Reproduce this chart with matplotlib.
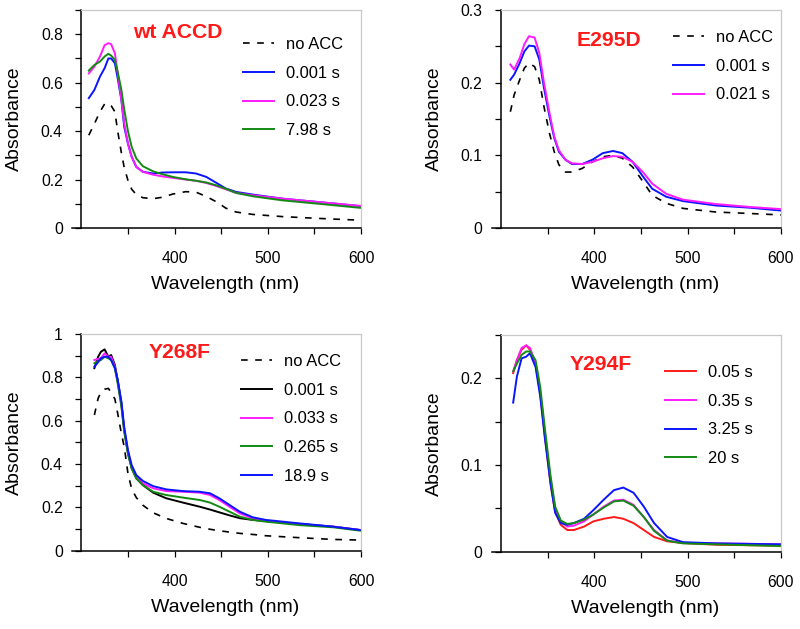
import matplotlib
matplotlib.use('Agg')
import matplotlib.pyplot as plt
from matplotlib.ticker import FixedLocator, FuncFormatter

plt.rcParams['font.family'] = ['Liberation Sans', 'DejaVu Sans']

# --- wt ACCD ---
wl_wt = [308, 314, 320, 325, 329, 332, 336, 339, 343, 346, 350, 354, 359, 366, 377,
         387, 398, 412, 423, 434, 445, 455, 466, 484, 516, 552, 600]
wt_noacc = [0.383, 0.43, 0.48, 0.512, 0.515, 0.505, 0.48, 0.40, 0.31, 0.25, 0.197, 0.160, 0.138, 0.125,
            0.121, 0.127, 0.140, 0.150, 0.148, 0.130, 0.108, 0.082, 0.066, 0.056, 0.047, 0.040, 0.032]
wt_0001 = [0.536, 0.57, 0.625, 0.66, 0.70, 0.70, 0.68, 0.618, 0.528, 0.418, 0.349, 0.294, 0.252, 0.232,
           0.225, 0.229, 0.230, 0.230, 0.225, 0.211, 0.186, 0.163, 0.149, 0.138, 0.121, 0.108, 0.090]
wt_0023 = [0.638, 0.666, 0.708, 0.755, 0.763, 0.759, 0.721, 0.639, 0.528, 0.432, 0.349, 0.294, 0.252, 0.232,
           0.220, 0.213, 0.207, 0.200, 0.195, 0.186, 0.173, 0.160, 0.145, 0.135, 0.121, 0.108, 0.091]
wt_798 = [0.650, 0.673, 0.687, 0.708, 0.719, 0.712, 0.694, 0.645, 0.570, 0.49, 0.400, 0.335, 0.287, 0.255,
          0.234, 0.222, 0.211, 0.201, 0.195, 0.188, 0.176, 0.162, 0.145, 0.131, 0.114, 0.101, 0.083]

# --- E295D ---
wl_e = [310, 314, 320, 325, 330, 336, 341, 346, 352, 357, 362, 369, 376, 387, 398, 409, 420,
        430, 441, 452, 462, 477, 495, 530, 566, 600]
e_noacc = [0.160, 0.183, 0.204, 0.220, 0.227, 0.222, 0.204, 0.167, 0.130, 0.105, 0.087, 0.077, 0.077,
           0.082, 0.091, 0.098, 0.100, 0.096, 0.084, 0.064, 0.045, 0.034, 0.027, 0.022, 0.020, 0.018]
e_0001 = [0.204, 0.211, 0.227, 0.243, 0.251, 0.250, 0.232, 0.193, 0.153, 0.124, 0.105, 0.094, 0.088,
          0.088, 0.094, 0.103, 0.106, 0.103, 0.091, 0.071, 0.054, 0.043, 0.037, 0.031, 0.028, 0.024]
e_0021 = [0.225, 0.218, 0.234, 0.253, 0.264, 0.262, 0.241, 0.200, 0.158, 0.126, 0.107, 0.094, 0.089,
          0.088, 0.091, 0.096, 0.099, 0.098, 0.091, 0.077, 0.061, 0.047, 0.039, 0.033, 0.029, 0.026]

# --- Y268F ---
wl_y268 = [314, 318, 321, 325, 329, 332, 336, 339, 343, 346, 350, 354, 359, 366, 377, 391, 409,
           427, 438, 448, 459, 470, 484, 498, 534, 570, 600]
y268_noacc = [0.626, 0.703, 0.73, 0.745, 0.749, 0.73, 0.70, 0.634, 0.54, 0.48, 0.357, 0.285, 0.245, 0.21,
              0.175, 0.149, 0.126, 0.108, 0.099, 0.092, 0.086, 0.080, 0.075, 0.069, 0.060, 0.052, 0.049]
y268_0001 = [0.842, 0.895, 0.918, 0.929, 0.895, 0.903, 0.857, 0.788, 0.680, 0.557, 0.449, 0.380, 0.334,
             0.303, 0.268, 0.242, 0.222, 0.203, 0.190, 0.177, 0.163, 0.150, 0.142, 0.137, 0.123, 0.111, 0.095]
y268_0033 = [0.88, 0.885, 0.888, 0.911, 0.895, 0.895, 0.849, 0.780, 0.672, 0.557, 0.457, 0.388, 0.342,
             0.311, 0.288, 0.275, 0.272, 0.268, 0.257, 0.234, 0.203, 0.172, 0.149, 0.138, 0.123, 0.111, 0.095]
y268_0265 = [0.865, 0.875, 0.88, 0.895, 0.888, 0.88, 0.842, 0.772, 0.665, 0.549, 0.449, 0.380, 0.334,
             0.303, 0.272, 0.257, 0.245, 0.234, 0.222, 0.203, 0.180, 0.157, 0.142, 0.134, 0.118, 0.108, 0.092]
y268_189 = [0.849, 0.87, 0.888, 0.895, 0.895, 0.88, 0.842, 0.788, 0.688, 0.572, 0.465, 0.395, 0.349,
            0.322, 0.298, 0.283, 0.275, 0.272, 0.265, 0.242, 0.211, 0.180, 0.154, 0.142, 0.126, 0.111, 0.095]

# --- Y294F ---
wl_y294 = [313, 317, 322, 327, 331, 337, 342, 347, 353, 358, 364, 371, 378, 389, 399, 410, 421,
           431, 442, 453, 464, 478, 495, 531, 600]
y294_005 = [0.206, 0.221, 0.233, 0.238, 0.233, 0.217, 0.183, 0.133, 0.079, 0.046, 0.031, 0.025, 0.025,
            0.029, 0.035, 0.038, 0.040, 0.038, 0.033, 0.025, 0.017, 0.012, 0.010, 0.008, 0.007]
y294_035 = [0.208, 0.221, 0.235, 0.238, 0.235, 0.217, 0.185, 0.137, 0.083, 0.050, 0.035, 0.029, 0.030,
            0.035, 0.043, 0.052, 0.059, 0.060, 0.054, 0.040, 0.025, 0.013, 0.010, 0.0096, 0.0085]
y294_325 = [0.172, 0.202, 0.223, 0.225, 0.229, 0.213, 0.179, 0.131, 0.079, 0.045, 0.033, 0.031, 0.033,
            0.038, 0.048, 0.060, 0.071, 0.074, 0.068, 0.052, 0.033, 0.017, 0.011, 0.0096, 0.0085]
y294_20 = [0.208, 0.217, 0.227, 0.231, 0.231, 0.221, 0.190, 0.142, 0.088, 0.052, 0.036, 0.032, 0.033,
           0.037, 0.043, 0.051, 0.058, 0.059, 0.053, 0.040, 0.024, 0.0127, 0.0096, 0.0085, 0.0065]

BLUE = '#0a14ff'
MAG = '#ff1aff'
GREEN = '#138a13'
RED = '#ff1a1a'
DASH = (0, (4, 4.5))

W, H = 800, 629
fig = plt.figure(figsize=(W / 100, H / 100), dpi=100)


def px_axes(l, t, r, b):
    return fig.add_axes([l / W, 1 - b / H, (r - l) / W, (b - t) / H])


def style(ax, ylim, ymajor, yminor):
    ax.set_xlim(290, 600)
    ax.set_ylim(*ylim)
    ax.spines['left'].set_position(('data', 300))
    for s in ('left', 'bottom'):
        ax.spines[s].set_linewidth(1.1)
    for s in ('top', 'right'):
        ax.spines[s].set_color('#c8c8c8')
        ax.spines[s].set_linewidth(0.9)
    ax.spines['top'].set_bounds(300, 600)
    ax.xaxis.set_major_locator(FixedLocator([400, 500, 600]))
    ax.xaxis.set_minor_locator(FixedLocator([350, 450, 550]))
    ax.yaxis.set_major_locator(FixedLocator(ymajor))
    ax.yaxis.set_minor_locator(FixedLocator(yminor))
    ax.yaxis.set_major_formatter(FuncFormatter(lambda v, p: '0' if v == 0 else f'{v:g}'))
    ax.tick_params(which='both', direction='out', length=4.3, width=0.9, labelsize=11.3)
    ax.tick_params(axis='x', which='major', pad=12.5)
    ax.tick_params(axis='y', which='major', pad=9.0)
    ax.set_xlabel('Wavelength (nm)', fontsize=14)
    ax.set_ylabel('Absorbance', fontsize=14)
    ax.xaxis.set_label_coords(0.53, -0.222)
    ax.yaxis.set_label_coords(-0.17, 0.5)


def legend(ax, x, y):
    ax.legend(loc='upper left', bbox_to_anchor=(x / W, 1 - y / H), bbox_transform=fig.transFigure,
              frameon=False, fontsize=11.9, handlelength=1.88, handletextpad=0.73,
              labelspacing=0.83, borderpad=0, borderaxespad=0)


# panel 1
ax1 = px_axes(72, 10, 361, 228)
ax1.plot(wl_wt, wt_noacc, color='black', ls=DASH, lw=1.2, label='no ACC')
ax1.plot(wl_wt, wt_0001, color=BLUE, lw=1.4, label='0.001 s')
ax1.plot(wl_wt, wt_0023, color=MAG, lw=1.4, label='0.023 s')
ax1.plot(wl_wt, wt_798, color=GREEN, lw=1.4, label='7.98 s')
style(ax1, (0, 0.9), [0, 0.2, 0.4, 0.6, 0.8], [0.1, 0.3, 0.5, 0.7, 0.9])
legend(ax1, 243, 37)
fig.text(133 / W, 1 - 33 / H, 'wt ACCD', color=RED, fontsize=15.2, fontweight='bold', va='center')

# panel 2
ax2 = px_axes(491.7, 10, 781, 228)
ax2.plot(wl_e, e_noacc, color='black', ls=DASH, lw=1.2, label='no ACC')
ax2.plot(wl_e, e_0001, color=BLUE, lw=1.4, label='0.001 s')
ax2.plot(wl_e, e_0021, color=MAG, lw=1.4, label='0.021 s')
style(ax2, (0, 0.3), [0, 0.1, 0.2, 0.3], [0.05, 0.15, 0.25])
legend(ax2, 673, 30)
fig.text(576.7 / W, 1 - 40 / H, 'E295D', color=RED, fontsize=15.2, fontweight='bold', va='center')

# panel 3
ax3 = px_axes(72, 334, 361, 550.7)
ax3.plot(wl_y268, y268_noacc, color='black', ls=DASH, lw=1.2, label='no ACC')
ax3.plot(wl_y268, y268_0001, color='black', lw=1.4, label='0.001 s')
ax3.plot(wl_y268, y268_0033, color=MAG, lw=1.4, label='0.033 s')
ax3.plot(wl_y268, y268_0265, color=GREEN, lw=1.4, label='0.265 s')
ax3.plot(wl_y268, y268_189, color=BLUE, lw=1.4, label='18.9 s')
style(ax3, (0, 1.0), [0, 0.2, 0.4, 0.6, 0.8, 1.0], [0.1, 0.3, 0.5, 0.7, 0.9])
legend(ax3, 241, 354)
fig.text(149 / W, 1 - 353 / H, 'Y268F', color=RED, fontsize=15.2, fontweight='bold', va='center')

# panel 4
ax4 = px_axes(491.7, 335, 781, 551.7)
ax4.plot(wl_y294, y294_005, color=RED, lw=1.4, label='0.05 s')
ax4.plot(wl_y294, y294_035, color=MAG, lw=1.4, label='0.35 s')
ax4.plot(wl_y294, y294_325, color=BLUE, lw=1.4, label='3.25 s')
ax4.plot(wl_y294, y294_20, color=GREEN, lw=1.4, label='20 s')
style(ax4, (0, 0.25), [0, 0.1, 0.2], [0.05, 0.15, 0.25])
legend(ax4, 665, 365)
fig.text(570 / W, 1 - 365 / H, 'Y294F', color=RED, fontsize=15.2, fontweight='bold', va='center')

fig.savefig('out.png', dpi=100)
